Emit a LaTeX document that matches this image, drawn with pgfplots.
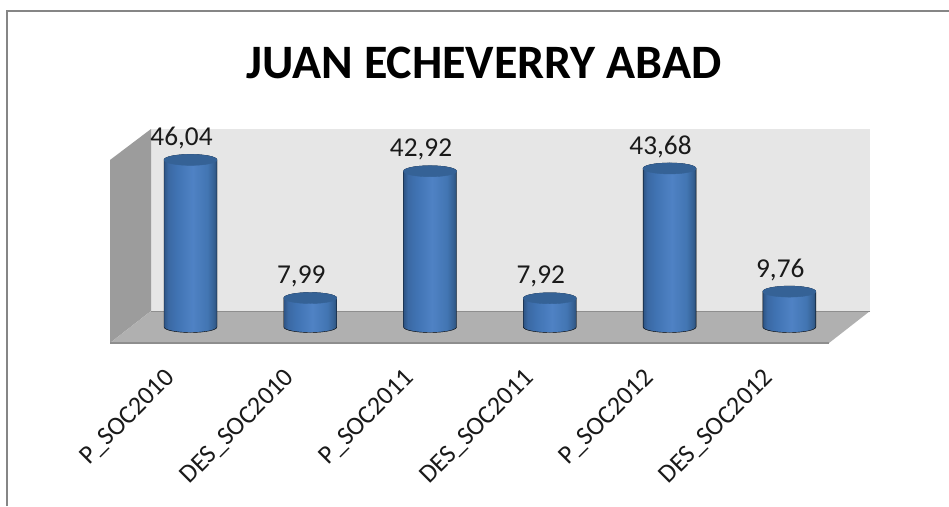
\documentclass[border=0pt]{standalone}
\usepackage{fontspec}
\setmainfont{Carlito}
\usepackage{pgfplots}
\pgfplotsset{compat=1.18}
\definecolor{framec}{HTML}{868686}
\definecolor{backw}{HTML}{E6E6E6}
\definecolor{leftw}{HTML}{9C9C9C}
\definecolor{floorc}{HTML}{B0B0B0}
\definecolor{edgec}{HTML}{8E8E8E}
\definecolor{topblue}{HTML}{356296}
\definecolor{txt}{HTML}{1A1A1A}
\pgfdeclarehorizontalshading{cylshade}{100bp}{
 color(0bp)=(black!0!white);
 rgb(25bp)=(.18,.33,.52);
 rgb(29bp)=(.23,.41,.64);
 rgb(37bp)=(.25,.45,.70);
 rgb(52bp)=(.31,.51,.77);
 rgb(66bp)=(.26,.46,.70);
 rgb(72bp)=(.21,.38,.58);
 rgb(75bp)=(.17,.31,.47);
 rgb(100bp)=(.17,.31,.47)}
\pgfdeclareplotmark{cylempty}{}
\pgfplotstableread{
x y
0 46.04
1 7.99
2 42.92
3 7.92
4 43.68
5 9.76
}\soctable
\begin{document}
\begin{tikzpicture}[x=1pt,y=-1pt]
\useasboundingbox (0,0) rectangle (949,506);
\fill[white] (0,0) rectangle (949,506);
\draw[framec,line width=2pt] (7,506) -- (7,10.5) -- (949,10.5);
\fill[backw] (151,129) rectangle (870,311);
\fill[leftw] (110,160) -- (151,129) -- (151,311) -- (110,343) -- cycle;
\fill[floorc] (110,343) -- (151,311) -- (870,311) -- (829,343) -- cycle;
\draw[edgec,line width=1pt] (151,311) -- (870,311);
\draw[edgec,line width=1.5pt] (110,343) -- (829,343);
\node[font=\bfseries\fontsize{48}{48}\selectfont,text=black] at (484,63) {JUAN ECHEVERRY ABAD};
\begin{axis}[
  at={(0pt,0pt)}, anchor=north west,
  scale only axis, width=949pt, height=506pt,
  xmin=-1.5907, xmax=6.3335, ymin=-49.311, ymax=90.083,
  clip=false,
  axis line style={draw=none},
  major tick length=0pt,
  ymajorticks=false,
  xtick=data,
  xticklabels={P\_SOC2010,DES\_SOC2010,P\_SOC2011,DES\_SOC2011,P\_SOC2012,DES\_SOC2012},
  xticklabel style={font=\fontsize{26}{26}\selectfont,text=txt,yshift=144pt,xshift=-27pt,rotate=45,anchor=north east},
]
\addplot[only marks, mark=cylempty, scatter,
  visualization depends on={y \as \val},
  scatter/@pre marker code/.code={%
    \pgfmathsetmacro{\hh}{\val*3.63}%
    \path[shading=cylshade,yslant=0.16]
      (-26.5pt,0pt) -- (-26.5pt,-\hh pt)
      arc[start angle=180,end angle=360,x radius=26.5pt,y radius=5.5pt]
      -- (26.5pt,0pt)
      arc[start angle=0,end angle=180,x radius=26.5pt,y radius=5.5pt] -- cycle;
    \fill[topblue,yslant=0.16] (0pt,0pt) ellipse[x radius=26.5pt,y radius=5.5pt];
  },
  scatter/@post marker code/.code={},
] table[x=x,y=y] {\soctable};
\addplot[draw=none, mark=none,
  nodes near coords,
  point meta=y,
  every node near coord/.append style={anchor=center,xshift=-9pt,yshift=22pt,font=\fontsize{27.3}{27.3}\selectfont,text=txt,
    /pgf/number format/.cd,fixed,fixed zerofill,precision=2,use comma,assume math mode=true},
] table[x=x,y=y] {\soctable};
\end{axis}
\end{tikzpicture}
\end{document}
